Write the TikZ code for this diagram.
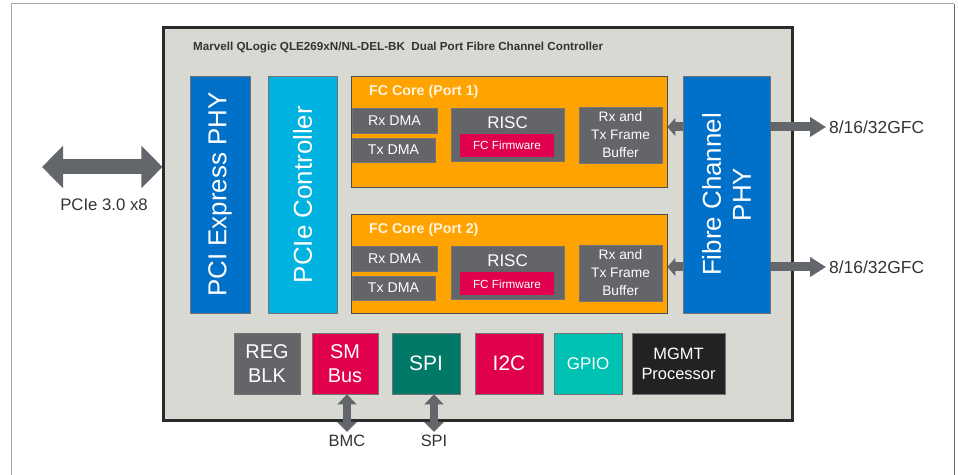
\documentclass[tikz,border=0pt]{standalone}
\usepackage{fontspec}
\setmainfont{Liberation Sans}
\usetikzlibrary{arrows.meta}

\definecolor{chipgray}{HTML}{D9D9D4}
\definecolor{chipedge}{HTML}{2B2B2B}
\definecolor{phyblue}{HTML}{0070C9}
\definecolor{ctlcyan}{HTML}{00B2E0}
\definecolor{coreorange}{HTML}{FFA300}
\definecolor{coretext}{HTML}{FFF3DC}
\definecolor{blkgray}{HTML}{636569}
\definecolor{fwred}{HTML}{E0004D}
\definecolor{spigreen}{HTML}{007A66}
\definecolor{gpioteal}{HTML}{00C2B2}
\definecolor{mgmtblack}{HTML}{222222}
\definecolor{arrowgray}{HTML}{63666A}
\definecolor{txtgray}{HTML}{333333}

\newcommand\sz[2]{\fontsize{#1}{#2}\selectfont}

\begin{document}
\begin{tikzpicture}[x=1bp,y=-1bp,
    box/.style={draw=black!55, line width=0.8bp, inner sep=0pt, text=white, align=center},
    outlbl/.style={text=txtgray, inner sep=3bp},
    pciearrow/.style={arrowgray, line width=15bp,
        {Triangle[length=21bp,width=41bp]}-{Triangle[length=21bp,width=41bp]}},
    gfcarrow/.style={arrowgray, line width=9bp, -{Triangle[length=16bp,width=19bp]}},
    bufarrow/.style={arrowgray, line width=9bp, -{Triangle[length=8bp,width=18bp]}},
    busarrow/.style={arrowgray, line width=8bp,
        {Triangle[length=10bp,width=19bp]}-{Triangle[length=10bp,width=19bp]}}]
\useasboundingbox (0,0) rectangle (958,475);
%   outer frame
    \draw[black!35, line width=1bp] (11,475) -- (11,4) -- (954,4);
    \draw[black!60, line width=1bp] (954,4) -- (954,475);

    \node[draw=chipedge, fill=chipgray, line width=3bp, minimum width=628bp, minimum height=392bp] (chip) at (478,224) {};
    \node[anchor=west, inner sep=0pt, text=txtgray, font=\bfseries\sz{11.7}{13}] (title) at (193,48)
        {Marvell QLogic QLE269xN/NL-DEL-BK\ \ Dual Port Fibre Channel Controller};

    \node[box, fill=phyblue, rotate=90, minimum width=237bp, minimum height=60bp, font=\sz{26}{30}] (pcie-phy) at (220,194.5) {PCI Express PHY};
    \node[box, fill=ctlcyan, rotate=90, minimum width=237bp, minimum height=69bp, font=\sz{26}{30}] (pcie-ctl) at (302.5,194.5) {PCIe Controller};
    \node[box, fill=phyblue, rotate=90, minimum width=237bp, minimum height=87bp, font=\sz{26}{30}] (fc-phy) at (726.5,194.5) {Fibre Channel\\PHY};

%   port 1
    \node[box, fill=coreorange, draw=black!70, minimum width=316bp, minimum height=111bp] (core1) at (509,131.5) {};
    \node[anchor=west, text=coretext, inner sep=3bp, font=\bfseries\sz{14.3}{17}] (core1-title) at (366,92) {FC Core (Port 1)};
    \node[box, fill=blkgray, minimum width=85bp, minimum height=25bp, font=\sz{14.2}{17}] (rxdma1) at (394.5,120.5) {Rx DMA};
    \node[box, fill=blkgray, minimum width=83bp, minimum height=24bp, font=\sz{14.2}{17}] (txdma1) at (393.5,150) {Tx DMA};
    \node[box, fill=blkgray, minimum width=113bp, minimum height=53bp,
          label={[anchor=north, yshift=-5.5bp, text=white, font=\sz{17}{19}]north:RISC}] (risc1) at (507.5,134.5) {};
    \node[box, fill=fwred, draw=none, minimum width=94bp, minimum height=23bp, font=\sz{11.8}{14}] (fw1) at (507,145.5) {FC Firmware};
    \node[box, fill=blkgray, minimum width=83bp, minimum height=56bp, font=\sz{13.8}{18}] (buf1) at (620.5,135) {Rx and\\Tx Frame\\Buffer};

%   port 2
    \node[box, fill=coreorange, draw=black!70, minimum width=316bp, minimum height=99bp] (core2) at (509,263.5) {};
    \node[anchor=west, text=coretext, inner sep=3bp, font=\bfseries\sz{14.3}{17}] (core2-title) at (366,230) {FC Core (Port 2)};
    \node[box, fill=blkgray, minimum width=85bp, minimum height=25bp, font=\sz{14.2}{17}] (rxdma2) at (394.5,258.5) {Rx DMA};
    \node[box, fill=blkgray, minimum width=83bp, minimum height=24bp, font=\sz{14.2}{17}] (txdma2) at (393.5,288) {Tx DMA};
    \node[box, fill=blkgray, minimum width=113bp, minimum height=53bp,
          label={[anchor=north, yshift=-5.5bp, text=white, font=\sz{17}{19}]north:RISC}] (risc2) at (507.5,272.5) {};
    \node[box, fill=fwred, draw=none, minimum width=94bp, minimum height=23bp, font=\sz{11.8}{14}] (fw2) at (507,284) {FC Firmware};
    \node[box, fill=blkgray, minimum width=83bp, minimum height=56bp, font=\sz{13.8}{18}] (buf2) at (620.5,273) {Rx and\\Tx Frame\\Buffer};

%   bottom row
    \node[box, fill=blkgray, minimum width=66bp, minimum height=61bp, font=\sz{20}{24}] (regblk) at (267,363.5) {REG\\BLK};
    \node[box, fill=fwred, minimum width=66bp, minimum height=61bp, font=\sz{20}{24}] (smbus) at (345,363.5) {SM\\Bus};
    \node[box, fill=spigreen, minimum width=68bp, minimum height=61bp, font=\sz{21}{24}] (spi) at (426,363.5) {SPI};
    \node[box, fill=fwred, minimum width=68bp, minimum height=61bp, font=\sz{21}{24}] (i2c) at (509,363.5) {I2C};
    \node[box, fill=gpioteal, minimum width=68bp, minimum height=61bp, font=\sz{17}{20}] (gpio) at (588,363.5) {GPIO};
    \node[box, fill=mgmtblack, minimum width=93bp, minimum height=61bp, font=\sz{16.5}{20}] (mgmt) at (678.5,363.5) {MGMT\\Processor};

%   outside labels
    \node[outlbl, font=\sz{16.8}{19}] (pcie-lbl) at (104,205) {PCIe 3.0 x8};
    \node[outlbl, anchor=west, font=\sz{17.5}{20}] (gfc1) at (826,127) {8/16/32GFC};
    \node[outlbl, anchor=west, font=\sz{17.5}{20}] (gfc2) at (826,267) {8/16/32GFC};
    \node[outlbl, font=\sz{16.5}{19}] (bmc) at (347,441) {BMC};
    \node[outlbl, font=\sz{16.5}{19}] (spi-lbl) at (434,441) {SPI};
    \coordinate (pcie-end) at (42,167);

%   arrows
    \draw[pciearrow] (pcie-end) to (pcie-end -| chip.west);
    \draw[gfcarrow]  (fc-phy.south |- gfc1) to (gfc1.west);
    \draw[gfcarrow]  (fc-phy.south |- gfc2) to (gfc2.west);
    \draw[bufarrow]  (fc-phy.north |- gfc1) to (core1.east |- gfc1);
    \draw[bufarrow]  (fc-phy.north |- gfc2) to (core2.east |- gfc2);
    \draw[busarrow]  (bmc.north) to (bmc.north |- smbus.south);
    \draw[busarrow]  (spi-lbl.north) to (spi-lbl.north |- spi.south);
\end{tikzpicture}
\end{document}
